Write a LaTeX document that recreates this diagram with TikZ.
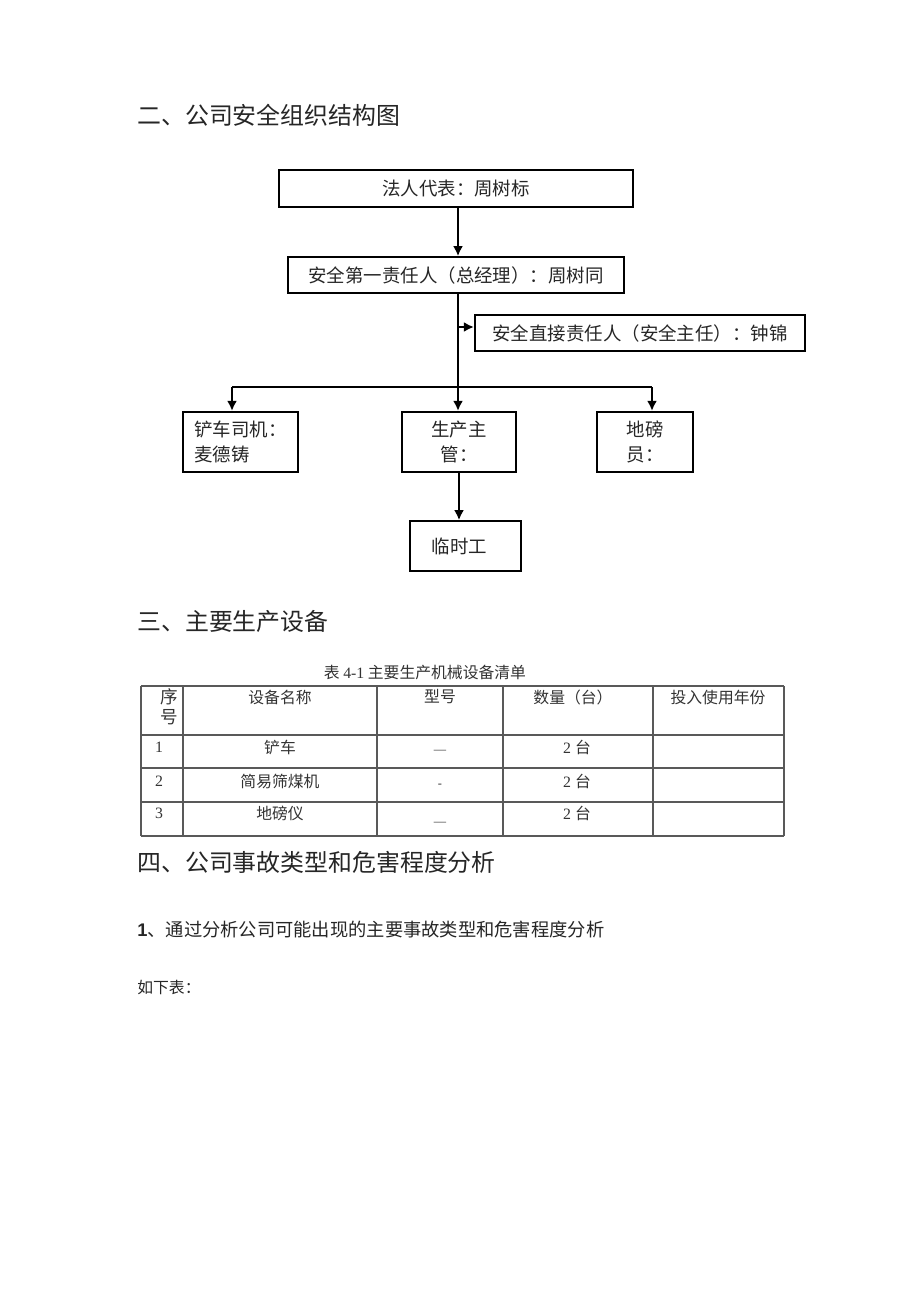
\documentclass[tikz,border=0pt]{standalone}
\usepackage{fontspec}
\setmainfont{Liberation Serif}
\setsansfont{Liberation Sans}
\newfontfamily\cjk{Noto Sans CJK SC}
\usepackage{tikz}
\usetikzlibrary{positioning,arrows.meta,calc}
\tikzstyle{block} = [rectangle, draw, line width=1.3pt, inner sep=0pt, text=black!85,
font=\cjk\fontsize{10.5pt}{14pt}\selectfont]
\tikzstyle{line} = [draw, line width=1.2pt, -{Latex[length=2mm,width=2mm]}]
\tikzstyle{heading} = [anchor=west, inner sep=0pt, text=black!85, font=\cjk\fontsize{13.6pt}{16pt}\selectfont]
\tikzstyle{cell} = [inner sep=0pt, text=black!80, font=\cjk\fontsize{9pt}{11.4pt}\selectfont]
\tikzstyle{grid} = [draw=black!65, line width=0.8pt]

\begin{document}
\begin{tikzpicture}[x=0.02cm,y=-0.02cm]
    \fill[white] (0,0) rectangle (920,1301);
    \useasboundingbox (0,0) rectangle (920,1301);

    % Headings
    \node [heading] (h_org) at (137,115) {二、公司安全组织结构图};
    \node [heading] (h_equip) at (137,621) {三、主要生产设备};
    \node [heading] (h_risk) at (137,862) {四、公司事故类型和危害程度分析};
    \node [heading, font=\fontsize{10.4pt}{13pt}\selectfont] (h_analysis) at (137,930) {{\sffamily\bfseries 1}{\cjk 、通过分析公司可能出现的主要事故类型和危害程度分析}};
    \node [heading, font=\cjk\fontsize{9pt}{11pt}\selectfont] (h_below) at (137,987) {如下表：};

    % Nodes
    \node [block, minimum width=7.08cm, minimum height=0.74cm] (legal) at (456,188.5) {法人代表：周树标};
    \node [block, below=0.96cm of legal, minimum width=6.72cm, minimum height=0.72cm] (manager) {安全第一责任人（总经理）：周树同};
    \node [block, minimum width=6.6cm, minimum height=0.72cm] (safety) at (640,333) {安全直接责任人（安全主任）：钟锦};

    \node [block, minimum width=2.3cm, minimum height=1.2cm, align=left] (driver) at (240.5,442) {铲车司机：\\麦德铸};
    \node [block, minimum width=2.28cm, minimum height=1.2cm, align=center] (prod) at (459,442) {生产主\\管：};
    \node [block, minimum width=1.92cm, minimum height=1.2cm, align=center] (scale) at (645,442) {地磅\\员：};
    \node [block, below=0.94cm of prod, xshift=0.13cm, minimum width=2.22cm, minimum height=1.0cm] (temp) {\hspace*{-0.25cm}临时工};

    % Connectors
    \coordinate (trunk) at (458,387);
    \coordinate (left_branch) at (232,387);
    \coordinate (right_branch) at (652,387);

    \draw [line] (legal.south -| trunk) -- (manager.north -| trunk);
    \draw [line width=1.2pt] (manager.south -| trunk) -- (trunk);
    \draw [line] ([yshift=0.12cm]safety.west -| trunk) -- ([yshift=0.12cm]safety.west);
    \draw [line width=1.2pt] (left_branch) -- (right_branch);
    \draw [line] (left_branch) -- (left_branch |- driver.north);
    \draw [line] (trunk) -- (trunk |- prod.north);
    \draw [line] (right_branch) -- (right_branch |- scale.north);
    \draw [line] (prod.south) -- (prod.south |- temp.north);

    % Table
    \node [cell] (caption) at (425,673) {表 {\rmfamily 4-1} 主要生产机械设备清单};
    \foreach \x in {141,183,377,503,653,784}
        \draw [grid] (\x,686) -- (\x,836);
    \foreach \y in {686,735,768,802,836}
        \draw [grid] (141,\y) -- (784,\y);

    \node [cell, align=center, font=\cjk\fontsize{10pt}{11.4pt}\selectfont] (th_no) at (169,707) {序\\号};
    \node [cell] (th_name) at (280,697) {设备名称};
    \node [cell] (th_model) at (440,697) {型号};
    \node [cell] (th_qty) at (573,697) {数量（台）};
    \node [cell] (th_year) at (718,697) {投入使用年份};

    \foreach \i/\y/\name/\dash/\dy in {1/747/铲车/—/752, 2/781/简易筛煤机/-/786, 3/813/地磅仪/—/824} {
        \node [cell, font=\rmfamily\fontsize{9pt}{11pt}\selectfont] (no\i) at (159,\y) {\i};
        \node [cell] (name\i) at (280,\y) {\name};
        \node [cell, font=\rmfamily\fontsize{7pt}{9pt}\selectfont] (model\i) at (440,\dy) {\dash};
        \node [cell, font=\rmfamily\fontsize{9pt}{11pt}\selectfont] (qty\i) at (577,\y) {2 {\cjk 台}};
    }
\end{tikzpicture}
\end{document}
